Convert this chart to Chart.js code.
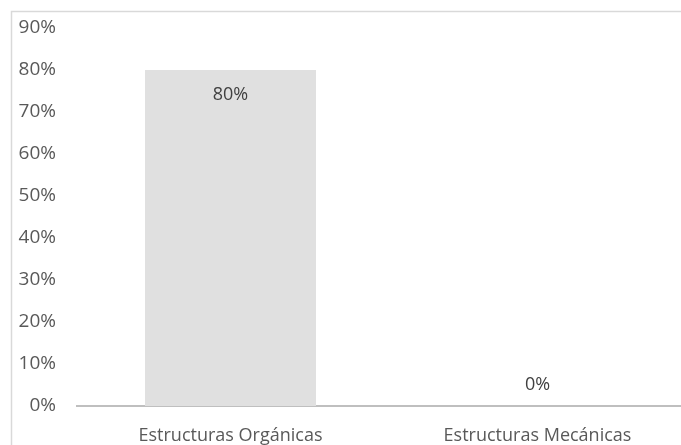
<!DOCTYPE html>
<html>
<head>
<meta charset="utf-8">
<script src="https://cdn.jsdelivr.net/npm/chart.js@4.4.0/dist/chart.umd.min.js"></script>
<style>
    html, body { margin: 0; padding: 0; background: #fff; overflow: hidden; }
    #wrap { width: 700px; height: 445px; }
</style>
</head>
<body>
<div id="wrap"><canvas id="grafico" width="700" height="445"></canvas></div>
<script>
// Datos del gráfico
const categorias = ['Estructuras Orgánicas', 'Estructuras Mecánicas'];
const valores = [0.80, 0];
const ticksY = [0, 0.1, 0.2, 0.3, 0.4, 0.5, 0.6, 0.7, 0.8, 0.9];

const colorTexto = '#595959';
const fuente = '"Open Sans", sans-serif';

// Marco gris claro alrededor del gráfico (recortado a la derecha y abajo)
const marcoPlugin = {
    id: 'marco',
    beforeDraw(chart) {
        const ctx = chart.ctx;
        ctx.save();
        ctx.strokeStyle = '#d9d9d9';
        ctx.lineWidth = 1.5;
        ctx.strokeRect(11.5, 11.5, 900, 900);
        ctx.restore();
    }
};

// Etiquetas de datos: dentro de la barra arriba, o encima si vale 0
const etiquetasPlugin = {
    id: 'etiquetas',
    afterDatasetsDraw(chart) {
        const ctx = chart.ctx;
        const meta = chart.getDatasetMeta(0);
        ctx.save();
        ctx.fillStyle = '#404040';
        ctx.font = '18px ' + fuente;
        ctx.textAlign = 'center';
        ctx.textBaseline = 'middle';
        meta.data.forEach((bar, i) => {
            const v = valores[i];
            const y = v > 0 ? bar.y + 25 : bar.y - 21;
            ctx.fillText(Math.round(v * 100) + '%', bar.x, y);
        });
        ctx.restore();
    }
};

const ctx = document.getElementById('grafico').getContext('2d');
new Chart(ctx, {
    type: 'bar',
    data: {
        labels: categorias,
        datasets: [{
            data: valores,
            backgroundColor: '#e0e0e0',
            borderWidth: 0,
            barPercentage: 0.557,
            categoryPercentage: 1
        }]
    },
    options: {
        responsive: false,
        animation: false,
        layout: { padding: { top: 28, right: 9, left: 0, bottom: 0 } },
        plugins: {
            legend: { display: false },
            tooltip: { enabled: false }
        },
        scales: {
            y: {
                min: 0,
                max: 0.9,
                afterBuildTicks(scale) {
                    scale.ticks = ticksY.map(v => ({ value: v }));
                },
                afterFit(scale) {
                    scale.width = 77;
                    scale.paddingTop = 0;
                    scale.paddingBottom = 0;
                },
                grid: { display: false, drawTicks: false },
                border: { display: false },
                ticks: {
                    padding: 21,
                    color: colorTexto,
                    font: { family: fuente, size: 19 },
                    callback: v => Math.round(v * 100) + '%'
                }
            },
            x: {
                afterFit(scale) { scale.height = 39; },
                grid: { display: false, drawTicks: false },
                border: { display: true, color: '#bfbfbf', width: 2 },
                ticks: {
                    padding: 19,
                    maxRotation: 0,
                    color: colorTexto,
                    font: { family: fuente, size: 18 }
                }
            }
        }
    },
    plugins: [marcoPlugin, etiquetasPlugin]
});
</script>
</body>
</html>
